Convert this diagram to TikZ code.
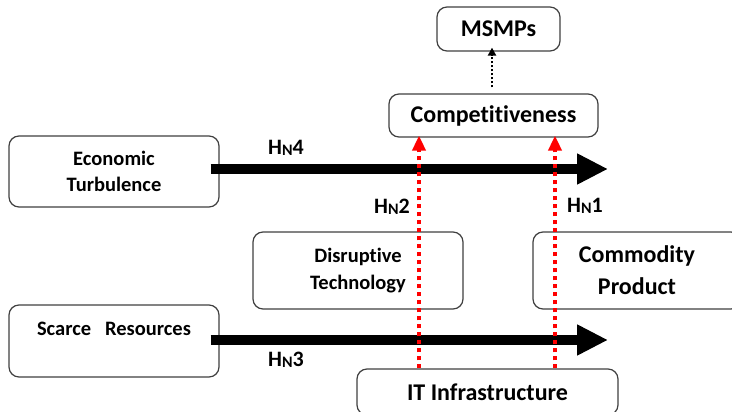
\documentclass[tikz,border=0pt]{standalone}
\usepackage{fontspec}
\setmainfont{Carlito}[Ligatures=NoCommon]
\usetikzlibrary{arrows.meta}
\tikzset{
  box/.style={draw=black!75, line width=1.2pt, rounded corners=10pt, fill=white, inner sep=0pt, align=center},
  smalltxt/.style={font=\fontsize{20.5}{26.5}\selectfont\bfseries},
  bigtxt/.style={font=\fontsize{24}{32}\selectfont\bfseries},
  hlabel/.style={font=\fontsize{22}{24}\selectfont\bfseries, inner sep=0pt},
  bigarrow/.style={line width=10pt, -{Triangle[length=31pt,width=29pt]}},
  redarrow/.style={red, line width=4pt, dash pattern=on 4pt off 4pt, -{Triangle[length=15pt,width=13pt]}},
  dotarrow/.style={black, line width=2pt, dash pattern=on 2pt off 2pt, -{Triangle[length=8pt,width=8pt]}}
}
\newcommand{\HN}[1]{H\raisebox{-1.5pt}{\fontsize{16}{16}\selectfont N}#1}
\begin{document}
\begin{tikzpicture}[x=1pt,y=-1pt]
\useasboundingbox (0,0) rectangle (732,412);
% boxes
\node[box, smalltxt, minimum width=210pt, minimum height=71pt] (econ) at (114,171.5) {Economic\\Turbulence};
\node[box, minimum width=210pt, minimum height=72pt] (scarce) at (114,341) {};
\node[smalltxt, inner sep=0pt] (scarcetxt) at (114,329) {Scarce\hspace{14pt}Resources};
\node[box, smalltxt, minimum width=210pt, minimum height=77pt] (disrupt) at (358,270.5) {Disruptive\\Technology};
\node[box, bigtxt, minimum width=208pt, minimum height=77pt] (commodity) at (637,270.5) {Commodity\\Product};
\node[box, bigtxt, minimum width=261pt, minimum height=46pt] (itinfra) at (487.5,392) {IT Infrastructure};
\node[box, bigtxt, minimum width=209pt, minimum height=43pt] (comp) at (493.5,115.5) {Competitiveness};
\node[box, bigtxt, minimum width=123pt, minimum height=44pt] (msmps) at (498.5,29) {MSMPs};
% helper coordinates
\coordinate (e4) at (608,169);
\coordinate (e3) at (608,340);
\coordinate (x2) at (419,0);
\coordinate (x1) at (555,0);
\coordinate (xm) at (492,0);
% thick arrows
\draw[bigarrow] ([xshift=-9pt]econ.east |- e4) -- (e4);
\draw[bigarrow] ([xshift=-9pt]scarce.east |- e3) -- (e3);
% labels
\node[hlabel] (h4) at (286,148) {\HN{4}};
\node[hlabel] (h3) at (286,360) {\HN{3}};
\node[hlabel] (h2) at (392,207) {\HN{2}};
\node[hlabel] (h1) at (585,206) {\HN{1}};
% red dotted arrows
\draw[redarrow] (itinfra.north -| x2) -- ([yshift=2pt]comp.south -| x2);
\draw[redarrow] (itinfra.north -| x1) -- ([yshift=2pt]comp.south -| x1);
% black dotted arrow
\draw[dotarrow] ([yshift=6pt]comp.north -| xm) -- ([yshift=4pt]msmps.south -| xm);
\end{tikzpicture}
\end{document}
